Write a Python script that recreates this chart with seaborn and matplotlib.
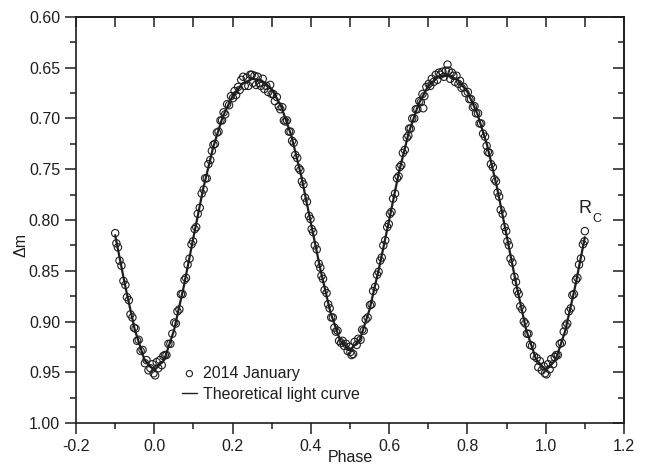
import matplotlib
matplotlib.use('Agg')
import matplotlib.pyplot as plt
import seaborn as sns
from matplotlib.ticker import MultipleLocator, FormatStrFormatter

# Curva teorica (fase, delta m)
fase_curva = [-0.100, -0.075, -0.050, -0.025, 0.000, 0.025, 0.050, 0.075, 0.100, 0.125,
              0.150, 0.175, 0.200, 0.225, 0.250, 0.275, 0.300, 0.325, 0.350, 0.375,
              0.400, 0.425, 0.450, 0.475, 0.500, 0.525, 0.550, 0.575, 0.600, 0.625,
              0.650, 0.675, 0.700, 0.725, 0.750, 0.775, 0.800, 0.825, 0.850, 0.875,
              0.900, 0.925, 0.950, 0.975, 1.000, 1.025, 1.050, 1.075, 1.100]
dm_curva = [0.815, 0.864, 0.908, 0.938, 0.948, 0.938, 0.909, 0.866, 0.817, 0.769,
            0.729, 0.698, 0.678, 0.666, 0.661, 0.663, 0.671, 0.689, 0.717, 0.756,
            0.803, 0.850, 0.891, 0.919, 0.928, 0.918, 0.888, 0.846, 0.800, 0.753,
            0.714, 0.686, 0.668, 0.659, 0.658, 0.662, 0.674, 0.695, 0.726, 0.767,
            0.815, 0.864, 0.908, 0.937, 0.948, 0.938, 0.909, 0.866, 0.817]

# Observaciones 2014 enero
fase_obs = [
    -0.100, -0.097, -0.093, -0.089, -0.084, -0.079,
    -0.074, -0.070, -0.065, -0.061, -0.056, -0.052,
    -0.048, -0.044, -0.040, -0.035, -0.030,
    -0.024, -0.020, -0.015, -0.010, -0.005, -0.002,
    0.002, 0.006, 0.010, 0.014, 0.019, 0.023,
    0.027, 0.031, 0.036, 0.041, 0.046,
    0.051, 0.055, 0.059, 0.064, 0.068, 0.072,
    0.077, 0.081, 0.085, 0.090, 0.095, 0.099,
    0.103, 0.107, 0.111, 0.116, 0.121,
    0.126, 0.130, 0.134, 0.138, 0.143, 0.147,
    0.151, 0.155, 0.160, 0.164, 0.169, 0.173,
    0.177, 0.181, 0.186, 0.191, 0.196,
    0.201, 0.205, 0.209, 0.214, 0.218, 0.222,
    0.227, 0.231, 0.236, 0.240, 0.245, 0.249,
    0.252, 0.256, 0.260, 0.264, 0.268, 0.272,
    0.277, 0.281, 0.286, 0.291, 0.296,
    0.300, 0.304, 0.308, 0.313, 0.318, 0.322,
    0.327, 0.331, 0.335, 0.339, 0.344, 0.348,
    0.352, 0.356, 0.360, 0.365, 0.369, 0.373,
    0.377, 0.381, 0.385, 0.390, 0.395, 0.399,
    0.402, 0.406, 0.410, 0.415, 0.420, 0.424,
    0.427, 0.431, 0.435, 0.440, 0.444, 0.448,
    0.452, 0.456, 0.460, 0.464, 0.468, 0.472,
    0.477, 0.481, 0.485, 0.490, 0.494, 0.498,
    0.501, 0.504, 0.508, 0.512, 0.517, 0.521,
    0.527, 0.531, 0.535, 0.540, 0.545,
    0.551, 0.555, 0.559, 0.564, 0.569, 0.573,
    0.577, 0.581, 0.585, 0.590, 0.595, 0.599,
    0.602, 0.606, 0.610, 0.615, 0.620, 0.624,
    0.627, 0.631, 0.635, 0.640, 0.645, 0.649,
    0.651, 0.655, 0.659, 0.664, 0.668, 0.672,
    0.677, 0.681, 0.685, 0.687, 0.690, 0.695,
    0.701, 0.705, 0.709, 0.714, 0.719, 0.723,
    0.727, 0.731, 0.736, 0.740, 0.745, 0.749,
    0.752, 0.756, 0.760, 0.764, 0.768, 0.772,
    0.777, 0.781, 0.785, 0.790, 0.795,
    0.801, 0.805, 0.809, 0.814, 0.818, 0.822,
    0.827, 0.831, 0.835, 0.840, 0.845, 0.849,
    0.852, 0.856, 0.860, 0.865, 0.869, 0.873,
    0.877, 0.881, 0.885, 0.890, 0.895, 0.899,
    0.902, 0.906, 0.910, 0.915, 0.920, 0.924,
    0.927, 0.931, 0.935, 0.940, 0.944, 0.948,
    0.952, 0.956, 0.960, 0.965, 0.970,
    0.977, 0.981, 0.985, 0.990, 0.995, 0.998,
    1.002, 1.006, 1.010, 1.014, 1.019, 1.023,
    1.027, 1.031, 1.036, 1.041, 1.046,
    1.051, 1.055, 1.059, 1.064, 1.068, 1.072,
    1.077, 1.081, 1.085, 1.090, 1.095, 1.099, 1.100,
]
dm_obs = [
    0.813, 0.823, 0.827, 0.840, 0.845, 0.860,
    0.864, 0.876, 0.879, 0.893, 0.896, 0.906,
    0.907, 0.919, 0.918, 0.929, 0.928,
    0.941, 0.938, 0.948, 0.946, 0.942, 0.951,
    0.953, 0.940, 0.946, 0.938, 0.943, 0.934,
    0.933, 0.933, 0.922, 0.922, 0.912,
    0.901, 0.902, 0.890, 0.888, 0.873, 0.873,
    0.859, 0.857, 0.844, 0.838, 0.824, 0.821,
    0.809, 0.807, 0.794, 0.788, 0.774,
    0.770, 0.759, 0.759, 0.745, 0.741, 0.732,
    0.726, 0.725, 0.714, 0.713, 0.702, 0.702,
    0.694, 0.696, 0.686, 0.687, 0.678,
    0.680, 0.673, 0.677, 0.669, 0.672, 0.662,
    0.659, 0.668, 0.660, 0.668, 0.657, 0.657,
    0.665, 0.658, 0.667, 0.659, 0.665, 0.668,
    0.661, 0.671, 0.668, 0.674, 0.667,
    0.676, 0.676, 0.683, 0.679, 0.688, 0.691,
    0.689, 0.702, 0.703, 0.702, 0.713, 0.713,
    0.722, 0.724, 0.736, 0.739, 0.749, 0.751,
    0.762, 0.765, 0.778, 0.782, 0.796, 0.799,
    0.809, 0.812, 0.825, 0.829, 0.843, 0.847,
    0.855, 0.858, 0.869, 0.872, 0.883, 0.887,
    0.896, 0.896, 0.906, 0.910, 0.909, 0.919,
    0.921, 0.919, 0.924, 0.922, 0.929, 0.925,
    0.930, 0.933, 0.932, 0.920, 0.923, 0.917,
    0.918, 0.908, 0.909, 0.898, 0.896,
    0.884, 0.883, 0.870, 0.866, 0.854, 0.851,
    0.840, 0.837, 0.825, 0.820, 0.807, 0.804,
    0.794, 0.792, 0.779, 0.774, 0.759, 0.757,
    0.748, 0.746, 0.734, 0.731, 0.719, 0.717,
    0.710, 0.710, 0.700, 0.700, 0.691, 0.691,
    0.683, 0.684, 0.676, 0.690, 0.678, 0.669,
    0.666, 0.668, 0.661, 0.664, 0.657, 0.662,
    0.655, 0.657, 0.654, 0.659, 0.653, 0.647,
    0.653, 0.661, 0.655, 0.658, 0.664, 0.658,
    0.666, 0.663, 0.670, 0.669, 0.675,
    0.674, 0.681, 0.681, 0.689, 0.688, 0.695,
    0.695, 0.705, 0.705, 0.715, 0.718, 0.727,
    0.733, 0.734, 0.745, 0.748, 0.760, 0.762,
    0.773, 0.777, 0.790, 0.794, 0.807, 0.811,
    0.821, 0.825, 0.838, 0.842, 0.856, 0.861,
    0.870, 0.873, 0.885, 0.888, 0.900, 0.902,
    0.912, 0.912, 0.923, 0.924, 0.934,
    0.936, 0.945, 0.939, 0.948, 0.944, 0.951,
    0.952, 0.942, 0.947, 0.937, 0.942, 0.935,
    0.933, 0.933, 0.922, 0.921, 0.910,
    0.904, 0.902, 0.890, 0.887, 0.874, 0.873,
    0.859, 0.857, 0.844, 0.838, 0.824, 0.821, 0.811,
]

sns.set_theme(style='ticks')
plt.rcParams['font.family'] = ['Liberation Sans', 'DejaVu Sans']
plt.rcParams['axes.unicode_minus'] = False

color = '#1e1e1e'
fs = 11.5
fig = plt.figure(figsize=(6.5, 4.68), dpi=100)
ax = fig.add_axes([0.117, 0.096, 0.843, 0.868])

sns.lineplot(x=fase_curva, y=dm_curva, color=color, linewidth=1.6, ax=ax,
             label='Theoretical light curve', zorder=2)
sns.scatterplot(x=fase_obs, y=dm_obs, marker='o', s=28, facecolors='none',
                edgecolor=color, linewidth=0.8, ax=ax, label='2014 January', zorder=3)

# Ejes
ax.set_xlim(-0.2, 1.2)
ax.set_ylim(1.0, 0.6)
ax.xaxis.set_major_locator(MultipleLocator(0.2))
ax.xaxis.set_minor_locator(MultipleLocator(0.1))
ax.yaxis.set_major_locator(MultipleLocator(0.05))
ax.yaxis.set_minor_locator(MultipleLocator(0.025))
ax.xaxis.set_major_formatter(FormatStrFormatter('%.1f'))
ax.yaxis.set_major_formatter(FormatStrFormatter('%.2f'))
ax.tick_params(which='major', direction='out', length=8, width=1.1, labelsize=fs,
               pad=3.5, colors=color)
ax.tick_params(which='minor', direction='out', length=4.5, width=1.1, colors=color)
for s in ax.spines.values():
    s.set_linewidth(1.2)
    s.set_color(color)

top = ax.secondary_xaxis('top')
top.xaxis.set_major_locator(MultipleLocator(0.1))
top.tick_params(direction='in', length=7, width=1.1, labeltop=False, colors=color)
top.spines['top'].set_linewidth(1.2)

right = ax.secondary_yaxis('right')
right.yaxis.set_major_locator(MultipleLocator(0.05))
right.yaxis.set_minor_locator(MultipleLocator(0.025))
right.tick_params(which='major', direction='in', length=8, width=1.1, labelright=False, colors=color)
right.tick_params(which='minor', direction='in', length=4, width=1.1, colors=color)
right.spines['right'].set_linewidth(1.2)

ax.set_xlabel('Phase', fontsize=fs, color=color)
ax.xaxis.set_label_coords(0.5, -0.066)
ax.set_ylabel('Δm', fontsize=fs, color=color)
ax.yaxis.set_label_coords(-0.086, 0.438)

# Etiqueta del filtro
ax.text(1.0826, 0.7931, 'R', fontsize=13, color=color, va='baseline')
ax.text(1.119, 0.802, 'C', fontsize=9, color=color, va='baseline')

# Leyenda
h, l = ax.get_legend_handles_labels()
leg = ax.legend(h[::-1], l[::-1], loc='upper left', bbox_to_anchor=(0.193, 0.141),
                frameon=False, fontsize=fs, handlelength=0.95, handletextpad=0.4,
                labelspacing=0.38, borderpad=0, borderaxespad=0)
for t in leg.get_texts():
    t.set_color(color)
leg.legend_handles[0].set_sizes([20])
leg.legend_handles[1].set_linewidth(1.0)

fig.savefig('out.png', dpi=100)
